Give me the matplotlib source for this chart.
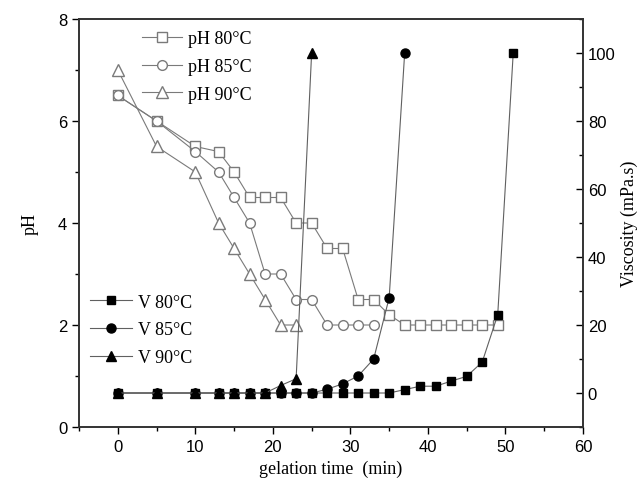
import matplotlib.pyplot as plt
import numpy as np

# pH data (open symbols)
t_ph80 = [0, 5, 10, 13, 15, 17, 19, 21, 23, 25, 27, 29, 31, 33, 35, 37, 39, 41, 43, 45, 47, 49]
ph80 = [6.5, 6.0, 5.5, 5.4, 5.0, 4.5, 4.5, 4.5, 4.0, 4.0, 3.5, 3.5, 2.5, 2.5, 2.2, 2.0, 2.0, 2.0, 2.0, 2.0, 2.0, 2.0]
t_ph85 = [0, 5, 10, 13, 15, 17, 19, 21, 23, 25, 27, 29, 31, 33]
ph85 = [6.5, 6.0, 5.4, 5.0, 4.5, 4.0, 3.0, 3.0, 2.5, 2.5, 2.0, 2.0, 2.0, 2.0]
t_ph90 = [0, 5, 10, 13, 15, 17, 19, 21, 23]
ph90 = [7.0, 5.5, 5.0, 4.0, 3.5, 3.0, 2.5, 2.0, 2.0]

# viscosity data (filled symbols)
t_v80 = [0, 5, 10, 13, 15, 17, 19, 21, 23, 25, 27, 29, 31, 33, 35, 37, 39, 41, 43, 45, 47, 49, 51]
v80 = [0, 0, 0, 0, 0, 0, 0, 0, 0, 0, 0, 0, 0, 0, 0, 1.0, 2.0, 2.0, 3.5, 4.9, 9.1, 23, 100]
t_v85 = [0, 5, 10, 13, 15, 17, 19, 21, 23, 25, 27, 29, 31, 33, 35, 37]
v85 = [0, 0, 0, 0, 0, 0, 0, 0, 0, 0, 1.1, 2.7, 5.0, 10, 28, 100]
t_v90 = [0, 5, 10, 13, 15, 17, 19, 21, 23, 25]
v90 = [0, 0, 0, 0, 0, 0, 0, 2.2, 4.2, 100]

plt.rcParams['font.family'] = ['Liberation Sans', 'DejaVu Sans']
serif = ['Liberation Serif', 'DejaVu Serif']

fig = plt.figure(figsize=(6.43, 4.85), dpi=100)
ax = fig.add_axes([0.1229, 0.1175, 0.7838, 0.8413])
ax2 = ax.twinx()

gris = "#7a7a7a"
ax.plot(t_ph80, ph80, "-s", color=gris, mfc="white", mec=gris, ms=7, lw=0.8, label="pH 80°C")
ax.plot(t_ph85, ph85, "-o", color=gris, mfc="white", mec=gris, ms=7, lw=0.8, label="pH 85°C")
ax.plot(t_ph90, ph90, "-^", color=gris, mfc="white", mec=gris, ms=8, lw=0.8, label="pH 90°C")

linea = "#606060"
ax2.plot(t_v80, v80, "-s", color=linea, mfc="black", mec="black", ms=6, lw=0.8, label="V 80°C")
ax2.plot(t_v85, v85, "-o", color=linea, mfc="black", mec="black", ms=6.5, lw=0.8, label="V 85°C")
ax2.plot(t_v90, v90, "-^", color=linea, mfc="black", mec="black", ms=7, lw=0.8, label="V 90°C")

ax.set_xlim(-5, 60)
ax.set_ylim(0, 8)
ax2.set_ylim(-10, 110)

ax.set_xticks(np.arange(0, 61, 10))
ax.set_xticks(np.arange(-5, 61, 5), minor=True)
ax.set_yticks(np.arange(0, 9, 2))
ax.set_yticks(np.arange(0, 9, 1), minor=True)
ax2.set_yticks(np.arange(0, 101, 20))
ax2.set_yticks(np.arange(-10, 111, 10), minor=True)

ax.tick_params(axis="both", which="major", direction="out", length=5, width=1, labelsize=12)
ax.tick_params(axis="both", which="minor", direction="out", length=3, width=1)
ax.tick_params(axis="x", top=False, which="both")
ax2.tick_params(axis="y", which="major", direction="in", length=5, width=1, labelsize=12)
ax2.tick_params(axis="y", which="minor", direction="in", length=3, width=1)

for a in (ax, ax2):
    for s in a.spines.values():
        s.set_linewidth(1.2)
        s.set_color("#333333")

ax.set_xlabel("gelation time  (min)", fontsize=13, family=serif, labelpad=4)
ax.set_ylabel("pH", fontsize=13, family=serif, labelpad=14)
ax2.set_ylabel("Viscosity (mPa.s)", fontsize=13, family=serif, labelpad=4)

leg1 = ax.legend(loc="upper left", bbox_to_anchor=(0.125, 0.973), frameon=False,
                 prop={"family": serif, "size": 13}, borderpad=0, borderaxespad=0,
                 handlelength=2.2, handletextpad=0.35, labelspacing=0.6)
leg2 = ax2.legend(loc="upper left", bbox_to_anchor=(0.022, 0.327), frameon=False,
                  prop={"family": serif, "size": 13}, borderpad=0, borderaxespad=0,
                  handlelength=2.3, handletextpad=0.35, labelspacing=0.6)

plt.savefig("out.png", dpi=100)
